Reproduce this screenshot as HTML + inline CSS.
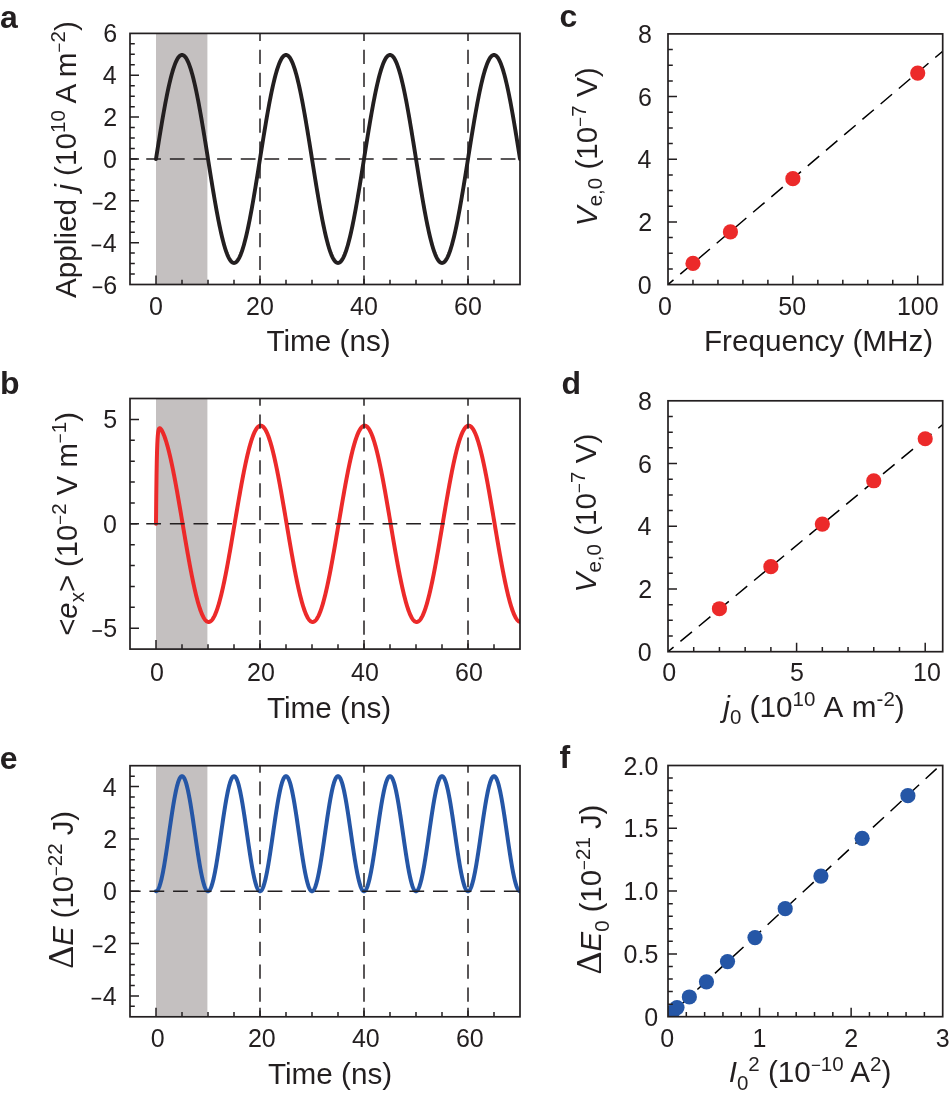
<!DOCTYPE html>
<html><head><meta charset="utf-8"><style>
html,body{margin:0;padding:0;background:#fff;width:950px;height:1100px;overflow:hidden}
svg{display:block;will-change:transform}
text{font-family:"Liberation Sans", sans-serif}
</style></head><body>
<svg width="950" height="1100" viewBox="0 0 950 1100" font-family='"Liberation Sans", sans-serif' fill="#231f20">
<rect width="950" height="1100" fill="#fff"/>
<rect x="156.00" y="33.40" width="51.40" height="251.10" fill="#c4c0c0"/>
<clipPath id="ca"><rect x="130.00" y="33.40" width="390.00" height="251.10"/></clipPath>
<polyline points="156.00,158.95 156.52,155.68 157.04,152.42 157.56,149.16 158.08,145.92 158.60,142.68 159.12,139.46 159.64,136.26 160.16,133.09 160.68,129.94 161.20,126.81 161.72,123.72 162.24,120.67 162.76,117.65 163.28,114.67 163.80,111.74 164.32,108.85 164.84,106.01 165.36,103.23 165.88,100.49 166.40,97.82 166.92,95.21 167.44,92.66 167.96,90.18 168.48,87.76 169.00,85.41 169.52,83.14 170.04,80.94 170.56,78.82 171.08,76.78 171.60,74.81 172.12,72.94 172.64,71.14 173.16,69.44 173.68,67.82 174.20,66.29 174.72,64.85 175.24,63.51 175.76,62.26 176.28,61.10 176.80,60.04 177.32,59.08 177.84,58.22 178.36,57.46 178.88,56.79 179.40,56.23 179.92,55.77 180.44,55.41 180.96,55.16 181.48,55.00 182.00,54.95 182.52,55.00 183.04,55.16 183.56,55.41 184.08,55.77 184.60,56.23 185.12,56.79 185.64,57.46 186.16,58.22 186.68,59.08 187.20,60.04 187.72,61.10 188.24,62.26 188.76,63.51 189.28,64.85 189.80,66.29 190.32,67.82 190.84,69.44 191.36,71.14 191.88,72.94 192.40,74.81 192.92,76.78 193.44,78.82 193.96,80.94 194.48,83.14 195.00,85.41 195.52,87.76 196.04,90.18 196.56,92.66 197.08,95.21 197.60,97.82 198.12,100.49 198.64,103.23 199.16,106.01 199.68,108.85 200.20,111.74 200.72,114.67 201.24,117.65 201.76,120.67 202.28,123.72 202.80,126.81 203.32,129.94 203.84,133.09 204.36,136.26 204.88,139.46 205.40,142.68 205.92,145.92 206.44,149.16 206.96,152.42 207.48,155.68 208.00,158.95 208.52,162.22 209.04,165.48 209.56,168.74 210.08,171.98 210.60,175.22 211.12,178.44 211.64,181.64 212.16,184.81 212.68,187.96 213.20,191.09 213.72,194.18 214.24,197.23 214.76,200.25 215.28,203.23 215.80,206.16 216.32,209.05 216.84,211.89 217.36,214.67 217.88,217.41 218.40,220.08 218.92,222.69 219.44,225.24 219.96,227.72 220.48,230.14 221.00,232.49 221.52,234.76 222.04,236.96 222.56,239.08 223.08,241.12 223.60,243.09 224.12,244.96 224.64,246.76 225.16,248.46 225.68,250.08 226.20,251.61 226.72,253.05 227.24,254.39 227.76,255.64 228.28,256.80 228.80,257.86 229.32,258.82 229.84,259.68 230.36,260.44 230.88,261.11 231.40,261.67 231.92,262.13 232.44,262.49 232.96,262.74 233.48,262.90 234.00,262.95 234.52,262.90 235.04,262.74 235.56,262.49 236.08,262.13 236.60,261.67 237.12,261.11 237.64,260.44 238.16,259.68 238.68,258.82 239.20,257.86 239.72,256.80 240.24,255.64 240.76,254.39 241.28,253.05 241.80,251.61 242.32,250.08 242.84,248.46 243.36,246.76 243.88,244.96 244.40,243.09 244.92,241.12 245.44,239.08 245.96,236.96 246.48,234.76 247.00,232.49 247.52,230.14 248.04,227.72 248.56,225.24 249.08,222.69 249.60,220.08 250.12,217.41 250.64,214.67 251.16,211.89 251.68,209.05 252.20,206.16 252.72,203.23 253.24,200.25 253.76,197.23 254.28,194.18 254.80,191.09 255.32,187.96 255.84,184.81 256.36,181.64 256.88,178.44 257.40,175.22 257.92,171.98 258.44,168.74 258.96,165.48 259.48,162.22 260.00,158.95 260.52,155.68 261.04,152.42 261.56,149.16 262.08,145.92 262.60,142.68 263.12,139.46 263.64,136.26 264.16,133.09 264.68,129.94 265.20,126.81 265.72,123.72 266.24,120.67 266.76,117.65 267.28,114.67 267.80,111.74 268.32,108.85 268.84,106.01 269.36,103.23 269.88,100.49 270.40,97.82 270.92,95.21 271.44,92.66 271.96,90.18 272.48,87.76 273.00,85.41 273.52,83.14 274.04,80.94 274.56,78.82 275.08,76.78 275.60,74.81 276.12,72.94 276.64,71.14 277.16,69.44 277.68,67.82 278.20,66.29 278.72,64.85 279.24,63.51 279.76,62.26 280.28,61.10 280.80,60.04 281.32,59.08 281.84,58.22 282.36,57.46 282.88,56.79 283.40,56.23 283.92,55.77 284.44,55.41 284.96,55.16 285.48,55.00 286.00,54.95 286.52,55.00 287.04,55.16 287.56,55.41 288.08,55.77 288.60,56.23 289.12,56.79 289.64,57.46 290.16,58.22 290.68,59.08 291.20,60.04 291.72,61.10 292.24,62.26 292.76,63.51 293.28,64.85 293.80,66.29 294.32,67.82 294.84,69.44 295.36,71.14 295.88,72.94 296.40,74.81 296.92,76.78 297.44,78.82 297.96,80.94 298.48,83.14 299.00,85.41 299.52,87.76 300.04,90.18 300.56,92.66 301.08,95.21 301.60,97.82 302.12,100.49 302.64,103.23 303.16,106.01 303.68,108.85 304.20,111.74 304.72,114.67 305.24,117.65 305.76,120.67 306.28,123.72 306.80,126.81 307.32,129.94 307.84,133.09 308.36,136.26 308.88,139.46 309.40,142.68 309.92,145.92 310.44,149.16 310.96,152.42 311.48,155.68 312.00,158.95 312.52,162.22 313.04,165.48 313.56,168.74 314.08,171.98 314.60,175.22 315.12,178.44 315.64,181.64 316.16,184.81 316.68,187.96 317.20,191.09 317.72,194.18 318.24,197.23 318.76,200.25 319.28,203.23 319.80,206.16 320.32,209.05 320.84,211.89 321.36,214.67 321.88,217.41 322.40,220.08 322.92,222.69 323.44,225.24 323.96,227.72 324.48,230.14 325.00,232.49 325.52,234.76 326.04,236.96 326.56,239.08 327.08,241.12 327.60,243.09 328.12,244.96 328.64,246.76 329.16,248.46 329.68,250.08 330.20,251.61 330.72,253.05 331.24,254.39 331.76,255.64 332.28,256.80 332.80,257.86 333.32,258.82 333.84,259.68 334.36,260.44 334.88,261.11 335.40,261.67 335.92,262.13 336.44,262.49 336.96,262.74 337.48,262.90 338.00,262.95 338.52,262.90 339.04,262.74 339.56,262.49 340.08,262.13 340.60,261.67 341.12,261.11 341.64,260.44 342.16,259.68 342.68,258.82 343.20,257.86 343.72,256.80 344.24,255.64 344.76,254.39 345.28,253.05 345.80,251.61 346.32,250.08 346.84,248.46 347.36,246.76 347.88,244.96 348.40,243.09 348.92,241.12 349.44,239.08 349.96,236.96 350.48,234.76 351.00,232.49 351.52,230.14 352.04,227.72 352.56,225.24 353.08,222.69 353.60,220.08 354.12,217.41 354.64,214.67 355.16,211.89 355.68,209.05 356.20,206.16 356.72,203.23 357.24,200.25 357.76,197.23 358.28,194.18 358.80,191.09 359.32,187.96 359.84,184.81 360.36,181.64 360.88,178.44 361.40,175.22 361.92,171.98 362.44,168.74 362.96,165.48 363.48,162.22 364.00,158.95 364.52,155.68 365.04,152.42 365.56,149.16 366.08,145.92 366.60,142.68 367.12,139.46 367.64,136.26 368.16,133.09 368.68,129.94 369.20,126.81 369.72,123.72 370.24,120.67 370.76,117.65 371.28,114.67 371.80,111.74 372.32,108.85 372.84,106.01 373.36,103.23 373.88,100.49 374.40,97.82 374.92,95.21 375.44,92.66 375.96,90.18 376.48,87.76 377.00,85.41 377.52,83.14 378.04,80.94 378.56,78.82 379.08,76.78 379.60,74.81 380.12,72.94 380.64,71.14 381.16,69.44 381.68,67.82 382.20,66.29 382.72,64.85 383.24,63.51 383.76,62.26 384.28,61.10 384.80,60.04 385.32,59.08 385.84,58.22 386.36,57.46 386.88,56.79 387.40,56.23 387.92,55.77 388.44,55.41 388.96,55.16 389.48,55.00 390.00,54.95 390.52,55.00 391.04,55.16 391.56,55.41 392.08,55.77 392.60,56.23 393.12,56.79 393.64,57.46 394.16,58.22 394.68,59.08 395.20,60.04 395.72,61.10 396.24,62.26 396.76,63.51 397.28,64.85 397.80,66.29 398.32,67.82 398.84,69.44 399.36,71.14 399.88,72.94 400.40,74.81 400.92,76.78 401.44,78.82 401.96,80.94 402.48,83.14 403.00,85.41 403.52,87.76 404.04,90.18 404.56,92.66 405.08,95.21 405.60,97.82 406.12,100.49 406.64,103.23 407.16,106.01 407.68,108.85 408.20,111.74 408.72,114.67 409.24,117.65 409.76,120.67 410.28,123.72 410.80,126.81 411.32,129.94 411.84,133.09 412.36,136.26 412.88,139.46 413.40,142.68 413.92,145.92 414.44,149.16 414.96,152.42 415.48,155.68 416.00,158.95 416.52,162.22 417.04,165.48 417.56,168.74 418.08,171.98 418.60,175.22 419.12,178.44 419.64,181.64 420.16,184.81 420.68,187.96 421.20,191.09 421.72,194.18 422.24,197.23 422.76,200.25 423.28,203.23 423.80,206.16 424.32,209.05 424.84,211.89 425.36,214.67 425.88,217.41 426.40,220.08 426.92,222.69 427.44,225.24 427.96,227.72 428.48,230.14 429.00,232.49 429.52,234.76 430.04,236.96 430.56,239.08 431.08,241.12 431.60,243.09 432.12,244.96 432.64,246.76 433.16,248.46 433.68,250.08 434.20,251.61 434.72,253.05 435.24,254.39 435.76,255.64 436.28,256.80 436.80,257.86 437.32,258.82 437.84,259.68 438.36,260.44 438.88,261.11 439.40,261.67 439.92,262.13 440.44,262.49 440.96,262.74 441.48,262.90 442.00,262.95 442.52,262.90 443.04,262.74 443.56,262.49 444.08,262.13 444.60,261.67 445.12,261.11 445.64,260.44 446.16,259.68 446.68,258.82 447.20,257.86 447.72,256.80 448.24,255.64 448.76,254.39 449.28,253.05 449.80,251.61 450.32,250.08 450.84,248.46 451.36,246.76 451.88,244.96 452.40,243.09 452.92,241.12 453.44,239.08 453.96,236.96 454.48,234.76 455.00,232.49 455.52,230.14 456.04,227.72 456.56,225.24 457.08,222.69 457.60,220.08 458.12,217.41 458.64,214.67 459.16,211.89 459.68,209.05 460.20,206.16 460.72,203.23 461.24,200.25 461.76,197.23 462.28,194.18 462.80,191.09 463.32,187.96 463.84,184.81 464.36,181.64 464.88,178.44 465.40,175.22 465.92,171.98 466.44,168.74 466.96,165.48 467.48,162.22 468.00,158.95 468.52,155.68 469.04,152.42 469.56,149.16 470.08,145.92 470.60,142.68 471.12,139.46 471.64,136.26 472.16,133.09 472.68,129.94 473.20,126.81 473.72,123.72 474.24,120.67 474.76,117.65 475.28,114.67 475.80,111.74 476.32,108.85 476.84,106.01 477.36,103.23 477.88,100.49 478.40,97.82 478.92,95.21 479.44,92.66 479.96,90.18 480.48,87.76 481.00,85.41 481.52,83.14 482.04,80.94 482.56,78.82 483.08,76.78 483.60,74.81 484.12,72.94 484.64,71.14 485.16,69.44 485.68,67.82 486.20,66.29 486.72,64.85 487.24,63.51 487.76,62.26 488.28,61.10 488.80,60.04 489.32,59.08 489.84,58.22 490.36,57.46 490.88,56.79 491.40,56.23 491.92,55.77 492.44,55.41 492.96,55.16 493.48,55.00 494.00,54.95 494.52,55.00 495.04,55.16 495.56,55.41 496.08,55.77 496.60,56.23 497.12,56.79 497.64,57.46 498.16,58.22 498.68,59.08 499.20,60.04 499.72,61.10 500.24,62.26 500.76,63.51 501.28,64.85 501.80,66.29 502.32,67.82 502.84,69.44 503.36,71.14 503.88,72.94 504.40,74.81 504.92,76.78 505.44,78.82 505.96,80.94 506.48,83.14 507.00,85.41 507.52,87.76 508.04,90.18 508.56,92.66 509.08,95.21 509.60,97.82 510.12,100.49 510.64,103.23 511.16,106.01 511.68,108.85 512.20,111.74 512.72,114.67 513.24,117.65 513.76,120.67 514.28,123.72 514.80,126.81 515.32,129.94 515.84,133.09 516.36,136.26 516.88,139.46 517.40,142.68 517.92,145.92 518.44,149.16 518.96,152.42 519.48,155.68 520.00,158.95" fill="none" stroke="#231f20" stroke-width="3.9" stroke-linejoin="round" stroke-linecap="round" clip-path="url(#ca)"/>
<path d="M130.00 158.95H520.00" stroke="#231f20" stroke-width="1.5" stroke-dasharray="14.8 8.83" stroke-dashoffset="7.4" fill="none"/>
<path d="M260.00 33.40V284.50" stroke="#231f20" stroke-width="1.5" stroke-dasharray="14.2 8.7" stroke-dashoffset="6.5" fill="none"/>
<path d="M364.00 33.40V284.50" stroke="#231f20" stroke-width="1.5" stroke-dasharray="14.2 8.7" stroke-dashoffset="6.5" fill="none"/>
<path d="M468.00 33.40V284.50" stroke="#231f20" stroke-width="1.5" stroke-dasharray="14.2 8.7" stroke-dashoffset="6.5" fill="none"/>
<path d="M156.00 284.50V279.70M182.00 284.50V279.70M208.00 284.50V279.70M234.00 284.50V279.70M260.00 284.50V279.70M286.00 284.50V279.70M312.00 284.50V279.70M338.00 284.50V279.70M364.00 284.50V279.70M390.00 284.50V279.70M416.00 284.50V279.70M442.00 284.50V279.70M468.00 284.50V279.70M494.00 284.50V279.70M156.00 284.50V275.50M260.00 284.50V275.50M364.00 284.50V275.50M468.00 284.50V275.50M130.00 274.04H134.80M130.00 263.57H134.80M130.00 253.11H134.80M130.00 242.65H134.80M130.00 232.19H134.80M130.00 221.72H134.80M130.00 211.26H134.80M130.00 200.80H134.80M130.00 190.34H134.80M130.00 179.88H134.80M130.00 169.41H134.80M130.00 158.95H134.80M130.00 148.49H134.80M130.00 138.03H134.80M130.00 127.56H134.80M130.00 117.10H134.80M130.00 106.64H134.80M130.00 96.17H134.80M130.00 85.71H134.80M130.00 75.25H134.80M130.00 64.79H134.80M130.00 54.33H134.80M130.00 43.86H134.80M130.00 242.65H139.00M130.00 200.80H139.00M130.00 158.95H139.00M130.00 117.10H139.00M130.00 75.25H139.00" stroke="#231f20" stroke-width="1.5" fill="none"/>
<rect x="130.00" y="33.40" width="390.00" height="251.10" fill="none" stroke="#231f20" stroke-width="1.7"/>
<text transform="translate(156.00,314.70) scale(1,1.05)" text-anchor="middle" font-size="25">0</text>
<text transform="translate(260.00,314.70) scale(1,1.05)" text-anchor="middle" font-size="25">20</text>
<text transform="translate(364.00,314.70) scale(1,1.05)" text-anchor="middle" font-size="25">40</text>
<text transform="translate(468.00,314.70) scale(1,1.05)" text-anchor="middle" font-size="25">60</text>
<text transform="translate(117.10,293.50) scale(1,1.05)" text-anchor="end" font-size="25">6</text>
<rect x="92.66" y="286.45" width="9.6" height="1.7" fill="#231f20"/>
<text transform="translate(116.73,251.65) scale(1,1.05)" text-anchor="end" font-size="25">4</text>
<rect x="91.60" y="244.60" width="9.6" height="1.7" fill="#231f20"/>
<text transform="translate(117.26,209.80) scale(1,1.05)" text-anchor="end" font-size="25">2</text>
<rect x="92.81" y="202.75" width="9.6" height="1.7" fill="#231f20"/>
<text transform="translate(116.98,167.95) scale(1,1.05)" text-anchor="end" font-size="25">0</text>
<text transform="translate(117.26,126.10) scale(1,1.05)" text-anchor="end" font-size="25">2</text>
<text transform="translate(116.73,84.25) scale(1,1.05)" text-anchor="end" font-size="25">4</text>
<text transform="translate(117.10,42.40) scale(1,1.05)" text-anchor="end" font-size="25">6</text>
<rect x="156.00" y="398.50" width="51.40" height="250.60" fill="#c4c0c0"/>
<clipPath id="cb"><rect x="130.00" y="398.50" width="390.00" height="250.60"/></clipPath>
<polyline points="156.00,523.80 156.26,495.95 156.52,476.01 156.78,461.74 157.04,451.53 157.30,444.26 157.56,439.08 157.82,435.42 158.08,432.84 158.34,431.06 158.60,429.85 158.86,429.05 159.12,428.56 159.38,428.29 159.64,428.20 159.90,428.23 160.16,428.35 160.42,428.56 160.68,428.82 160.94,429.14 161.20,429.50 161.46,429.90 161.72,430.33 161.98,430.79 162.24,431.28 162.50,431.79 162.76,432.33 163.02,432.90 163.28,433.49 163.54,434.10 163.80,434.73 164.06,435.39 164.32,436.07 164.58,436.77 164.84,437.49 165.10,438.24 165.36,439.01 165.62,439.79 165.88,440.60 166.14,441.43 166.40,442.28 166.66,443.14 166.92,444.03 167.18,444.94 167.44,445.87 167.70,446.82 167.96,447.78 168.22,448.77 168.48,449.77 168.74,450.79 169.00,451.83 169.26,452.89 169.52,453.96 169.78,455.05 170.04,456.16 170.30,457.29 170.56,458.43 170.82,459.59 171.08,460.76 171.34,461.95 171.60,463.16 171.86,464.38 172.12,465.61 172.38,466.86 172.64,468.12 172.90,469.40 173.16,470.69 173.42,471.99 173.68,473.31 173.94,474.64 174.20,475.98 174.46,477.33 174.72,478.69 174.98,480.07 175.24,481.45 175.50,482.85 175.76,484.25 176.02,485.67 176.28,487.10 176.54,488.53 176.80,489.97 177.06,491.42 177.32,492.88 177.58,494.35 177.84,495.82 178.10,497.31 178.36,498.79 178.62,500.29 178.88,501.79 179.14,503.29 179.40,504.80 179.66,506.32 179.92,507.84 180.18,509.36 180.44,510.89 180.70,512.42 180.96,513.95 181.22,515.48 181.48,517.02 181.74,518.56 182.00,520.10 182.26,521.64 182.52,523.18 182.78,524.73 183.04,526.27 183.30,527.81 183.56,529.35 183.82,530.89 184.08,532.42 184.34,533.96 184.60,535.49 184.86,537.02 185.12,538.54 185.38,540.07 185.64,541.59 185.90,543.10 186.16,544.61 186.42,546.11 186.68,547.61 186.94,549.10 187.20,550.59 187.46,552.07 187.72,553.54 187.98,555.01 188.24,556.47 188.50,557.92 188.76,559.36 189.02,560.79 189.28,562.21 189.54,563.63 189.80,565.03 190.06,566.43 190.32,567.81 190.58,569.18 190.84,570.54 191.10,571.89 191.36,573.23 191.62,574.56 191.88,575.87 192.14,577.17 192.40,578.46 192.66,579.73 192.92,580.99 193.18,582.24 193.44,583.47 193.70,584.69 193.96,585.89 194.22,587.07 194.48,588.24 194.74,589.40 195.00,590.54 195.26,591.66 195.52,592.77 195.78,593.85 196.04,594.93 196.30,595.98 196.56,597.02 196.82,598.03 197.08,599.03 197.34,600.01 197.60,600.98 197.86,601.92 198.12,602.84 198.38,603.75 198.64,604.63 198.90,605.50 199.16,606.34 199.42,607.16 199.68,607.97 199.94,608.75 200.20,609.51 200.46,610.25 200.72,610.97 200.98,611.67 201.24,612.35 201.50,613.00 201.76,613.63 202.02,614.24 202.28,614.83 202.54,615.40 202.80,615.94 203.06,616.46 203.32,616.96 203.58,617.43 203.84,617.88 204.10,618.31 204.36,618.71 204.62,619.09 204.88,619.45 205.14,619.79 205.40,620.10 205.66,620.38 205.92,620.64 206.18,620.88 206.44,621.10 206.70,621.29 206.96,621.46 207.22,621.60 207.48,621.72 207.74,621.81 208.00,621.88 208.26,621.93 208.52,621.95 208.78,621.95 209.04,621.92 209.30,621.87 209.56,621.79 209.82,621.70 210.08,621.57 210.34,621.42 210.60,621.25 210.86,621.06 211.12,620.84 211.38,620.59 211.64,620.33 211.90,620.04 212.16,619.72 212.42,619.38 212.68,619.02 212.94,618.63 213.20,618.22 213.46,617.79 213.72,617.34 213.98,616.86 214.24,616.36 214.50,615.83 214.76,615.28 215.02,614.71 215.28,614.12 215.54,613.51 215.80,612.87 216.06,612.21 216.32,611.53 216.58,610.83 216.84,610.11 217.10,609.36 217.36,608.60 217.62,607.81 217.88,607.00 218.14,606.17 218.40,605.32 218.66,604.46 218.92,603.57 219.18,602.66 219.44,601.73 219.70,600.78 219.96,599.82 220.22,598.83 220.48,597.83 220.74,596.81 221.00,595.77 221.26,594.71 221.52,593.64 221.78,592.55 222.04,591.44 222.30,590.31 222.56,589.17 222.82,588.01 223.08,586.84 223.34,585.65 223.60,584.44 223.86,583.22 224.12,581.99 224.38,580.74 224.64,579.48 224.90,578.20 225.16,576.91 225.42,575.61 225.68,574.29 225.94,572.96 226.20,571.62 226.46,570.27 226.72,568.91 226.98,567.53 227.24,566.15 227.50,564.75 227.76,563.35 228.02,561.93 228.28,560.50 228.54,559.07 228.80,557.63 229.06,556.18 229.32,554.72 229.58,553.25 229.84,551.78 230.10,550.29 230.36,548.81 230.62,547.31 230.88,545.81 231.14,544.31 231.40,542.80 231.66,541.28 231.92,539.76 232.18,538.24 232.44,536.71 232.70,535.18 232.96,533.65 233.22,532.12 233.48,530.58 233.74,529.04 234.00,527.50 234.26,525.96 234.52,524.42 234.78,522.87 235.04,521.33 235.30,519.79 235.56,518.25 235.82,516.71 236.08,515.18 236.34,513.64 236.60,512.11 236.86,510.58 237.12,509.06 237.38,507.53 237.64,506.01 237.90,504.50 238.16,502.99 238.42,501.49 238.68,499.99 238.94,498.50 239.20,497.01 239.46,495.53 239.72,494.06 239.98,492.59 240.24,491.13 240.50,489.68 240.76,488.24 241.02,486.81 241.28,485.39 241.54,483.97 241.80,482.57 242.06,481.17 242.32,479.79 242.58,478.42 242.84,477.06 243.10,475.71 243.36,474.37 243.62,473.04 243.88,471.73 244.14,470.43 244.40,469.14 244.66,467.87 244.92,466.61 245.18,465.36 245.44,464.13 245.70,462.91 245.96,461.71 246.22,460.53 246.48,459.36 246.74,458.20 247.00,457.06 247.26,455.94 247.52,454.83 247.78,453.75 248.04,452.67 248.30,451.62 248.56,450.58 248.82,449.57 249.08,448.57 249.34,447.59 249.60,446.62 249.86,445.68 250.12,444.76 250.38,443.85 250.64,442.97 250.90,442.10 251.16,441.26 251.42,440.44 251.68,439.63 251.94,438.85 252.20,438.09 252.46,437.35 252.72,436.63 252.98,435.93 253.24,435.25 253.50,434.60 253.76,433.97 254.02,433.36 254.28,432.77 254.54,432.20 254.80,431.66 255.06,431.14 255.32,430.64 255.58,430.17 255.84,429.72 256.10,429.29 256.36,428.89 256.62,428.51 256.88,428.15 257.14,427.81 257.40,427.50 257.66,427.22 257.92,426.96 258.18,426.72 258.44,426.50 258.70,426.31 258.96,426.14 259.22,426.00 259.48,425.88 259.74,425.79 260.00,425.72 260.26,425.67 260.52,425.65 260.78,425.65 261.04,425.68 261.30,425.73 261.56,425.81 261.82,425.90 262.08,426.03 262.34,426.18 262.60,426.35 262.86,426.54 263.12,426.76 263.38,427.01 263.64,427.27 263.90,427.56 264.16,427.88 264.42,428.22 264.68,428.58 264.94,428.97 265.20,429.38 265.46,429.81 265.72,430.26 265.98,430.74 266.24,431.24 266.50,431.77 266.76,432.32 267.02,432.89 267.28,433.48 267.54,434.09 267.80,434.73 268.06,435.39 268.32,436.07 268.58,436.77 268.84,437.49 269.10,438.24 269.36,439.00 269.62,439.79 269.88,440.60 270.14,441.43 270.40,442.28 270.66,443.14 270.92,444.03 271.18,444.94 271.44,445.87 271.70,446.82 271.96,447.78 272.22,448.77 272.48,449.77 272.74,450.79 273.00,451.83 273.26,452.89 273.52,453.96 273.78,455.05 274.04,456.16 274.30,457.29 274.56,458.43 274.82,459.59 275.08,460.76 275.34,461.95 275.60,463.16 275.86,464.38 276.12,465.61 276.38,466.86 276.64,468.12 276.90,469.40 277.16,470.69 277.42,471.99 277.68,473.31 277.94,474.64 278.20,475.98 278.46,477.33 278.72,478.69 278.98,480.07 279.24,481.45 279.50,482.85 279.76,484.25 280.02,485.67 280.28,487.10 280.54,488.53 280.80,489.97 281.06,491.42 281.32,492.88 281.58,494.35 281.84,495.82 282.10,497.31 282.36,498.79 282.62,500.29 282.88,501.79 283.14,503.29 283.40,504.80 283.66,506.32 283.92,507.84 284.18,509.36 284.44,510.89 284.70,512.42 284.96,513.95 285.22,515.48 285.48,517.02 285.74,518.56 286.00,520.10 286.26,521.64 286.52,523.18 286.78,524.73 287.04,526.27 287.30,527.81 287.56,529.35 287.82,530.89 288.08,532.42 288.34,533.96 288.60,535.49 288.86,537.02 289.12,538.54 289.38,540.07 289.64,541.59 289.90,543.10 290.16,544.61 290.42,546.11 290.68,547.61 290.94,549.10 291.20,550.59 291.46,552.07 291.72,553.54 291.98,555.01 292.24,556.47 292.50,557.92 292.76,559.36 293.02,560.79 293.28,562.21 293.54,563.63 293.80,565.03 294.06,566.43 294.32,567.81 294.58,569.18 294.84,570.54 295.10,571.89 295.36,573.23 295.62,574.56 295.88,575.87 296.14,577.17 296.40,578.46 296.66,579.73 296.92,580.99 297.18,582.24 297.44,583.47 297.70,584.69 297.96,585.89 298.22,587.07 298.48,588.24 298.74,589.40 299.00,590.54 299.26,591.66 299.52,592.77 299.78,593.85 300.04,594.93 300.30,595.98 300.56,597.02 300.82,598.03 301.08,599.03 301.34,600.01 301.60,600.98 301.86,601.92 302.12,602.84 302.38,603.75 302.64,604.63 302.90,605.50 303.16,606.34 303.42,607.16 303.68,607.97 303.94,608.75 304.20,609.51 304.46,610.25 304.72,610.97 304.98,611.67 305.24,612.35 305.50,613.00 305.76,613.63 306.02,614.24 306.28,614.83 306.54,615.40 306.80,615.94 307.06,616.46 307.32,616.96 307.58,617.43 307.84,617.88 308.10,618.31 308.36,618.71 308.62,619.09 308.88,619.45 309.14,619.79 309.40,620.10 309.66,620.38 309.92,620.64 310.18,620.88 310.44,621.10 310.70,621.29 310.96,621.46 311.22,621.60 311.48,621.72 311.74,621.81 312.00,621.88 312.26,621.93 312.52,621.95 312.78,621.95 313.04,621.92 313.30,621.87 313.56,621.79 313.82,621.70 314.08,621.57 314.34,621.42 314.60,621.25 314.86,621.06 315.12,620.84 315.38,620.59 315.64,620.33 315.90,620.04 316.16,619.72 316.42,619.38 316.68,619.02 316.94,618.63 317.20,618.22 317.46,617.79 317.72,617.34 317.98,616.86 318.24,616.36 318.50,615.83 318.76,615.28 319.02,614.71 319.28,614.12 319.54,613.51 319.80,612.87 320.06,612.21 320.32,611.53 320.58,610.83 320.84,610.11 321.10,609.36 321.36,608.60 321.62,607.81 321.88,607.00 322.14,606.17 322.40,605.32 322.66,604.46 322.92,603.57 323.18,602.66 323.44,601.73 323.70,600.78 323.96,599.82 324.22,598.83 324.48,597.83 324.74,596.81 325.00,595.77 325.26,594.71 325.52,593.64 325.78,592.55 326.04,591.44 326.30,590.31 326.56,589.17 326.82,588.01 327.08,586.84 327.34,585.65 327.60,584.44 327.86,583.22 328.12,581.99 328.38,580.74 328.64,579.48 328.90,578.20 329.16,576.91 329.42,575.61 329.68,574.29 329.94,572.96 330.20,571.62 330.46,570.27 330.72,568.91 330.98,567.53 331.24,566.15 331.50,564.75 331.76,563.35 332.02,561.93 332.28,560.50 332.54,559.07 332.80,557.63 333.06,556.18 333.32,554.72 333.58,553.25 333.84,551.78 334.10,550.29 334.36,548.81 334.62,547.31 334.88,545.81 335.14,544.31 335.40,542.80 335.66,541.28 335.92,539.76 336.18,538.24 336.44,536.71 336.70,535.18 336.96,533.65 337.22,532.12 337.48,530.58 337.74,529.04 338.00,527.50 338.26,525.96 338.52,524.42 338.78,522.87 339.04,521.33 339.30,519.79 339.56,518.25 339.82,516.71 340.08,515.18 340.34,513.64 340.60,512.11 340.86,510.58 341.12,509.06 341.38,507.53 341.64,506.01 341.90,504.50 342.16,502.99 342.42,501.49 342.68,499.99 342.94,498.50 343.20,497.01 343.46,495.53 343.72,494.06 343.98,492.59 344.24,491.13 344.50,489.68 344.76,488.24 345.02,486.81 345.28,485.39 345.54,483.97 345.80,482.57 346.06,481.17 346.32,479.79 346.58,478.42 346.84,477.06 347.10,475.71 347.36,474.37 347.62,473.04 347.88,471.73 348.14,470.43 348.40,469.14 348.66,467.87 348.92,466.61 349.18,465.36 349.44,464.13 349.70,462.91 349.96,461.71 350.22,460.53 350.48,459.36 350.74,458.20 351.00,457.06 351.26,455.94 351.52,454.83 351.78,453.75 352.04,452.67 352.30,451.62 352.56,450.58 352.82,449.57 353.08,448.57 353.34,447.59 353.60,446.62 353.86,445.68 354.12,444.76 354.38,443.85 354.64,442.97 354.90,442.10 355.16,441.26 355.42,440.44 355.68,439.63 355.94,438.85 356.20,438.09 356.46,437.35 356.72,436.63 356.98,435.93 357.24,435.25 357.50,434.60 357.76,433.97 358.02,433.36 358.28,432.77 358.54,432.20 358.80,431.66 359.06,431.14 359.32,430.64 359.58,430.17 359.84,429.72 360.10,429.29 360.36,428.89 360.62,428.51 360.88,428.15 361.14,427.81 361.40,427.50 361.66,427.22 361.92,426.96 362.18,426.72 362.44,426.50 362.70,426.31 362.96,426.14 363.22,426.00 363.48,425.88 363.74,425.79 364.00,425.72 364.26,425.67 364.52,425.65 364.78,425.65 365.04,425.68 365.30,425.73 365.56,425.81 365.82,425.90 366.08,426.03 366.34,426.18 366.60,426.35 366.86,426.54 367.12,426.76 367.38,427.01 367.64,427.27 367.90,427.56 368.16,427.88 368.42,428.22 368.68,428.58 368.94,428.97 369.20,429.38 369.46,429.81 369.72,430.26 369.98,430.74 370.24,431.24 370.50,431.77 370.76,432.32 371.02,432.89 371.28,433.48 371.54,434.09 371.80,434.73 372.06,435.39 372.32,436.07 372.58,436.77 372.84,437.49 373.10,438.24 373.36,439.00 373.62,439.79 373.88,440.60 374.14,441.43 374.40,442.28 374.66,443.14 374.92,444.03 375.18,444.94 375.44,445.87 375.70,446.82 375.96,447.78 376.22,448.77 376.48,449.77 376.74,450.79 377.00,451.83 377.26,452.89 377.52,453.96 377.78,455.05 378.04,456.16 378.30,457.29 378.56,458.43 378.82,459.59 379.08,460.76 379.34,461.95 379.60,463.16 379.86,464.38 380.12,465.61 380.38,466.86 380.64,468.12 380.90,469.40 381.16,470.69 381.42,471.99 381.68,473.31 381.94,474.64 382.20,475.98 382.46,477.33 382.72,478.69 382.98,480.07 383.24,481.45 383.50,482.85 383.76,484.25 384.02,485.67 384.28,487.10 384.54,488.53 384.80,489.97 385.06,491.42 385.32,492.88 385.58,494.35 385.84,495.82 386.10,497.31 386.36,498.79 386.62,500.29 386.88,501.79 387.14,503.29 387.40,504.80 387.66,506.32 387.92,507.84 388.18,509.36 388.44,510.89 388.70,512.42 388.96,513.95 389.22,515.48 389.48,517.02 389.74,518.56 390.00,520.10 390.26,521.64 390.52,523.18 390.78,524.73 391.04,526.27 391.30,527.81 391.56,529.35 391.82,530.89 392.08,532.42 392.34,533.96 392.60,535.49 392.86,537.02 393.12,538.54 393.38,540.07 393.64,541.59 393.90,543.10 394.16,544.61 394.42,546.11 394.68,547.61 394.94,549.10 395.20,550.59 395.46,552.07 395.72,553.54 395.98,555.01 396.24,556.47 396.50,557.92 396.76,559.36 397.02,560.79 397.28,562.21 397.54,563.63 397.80,565.03 398.06,566.43 398.32,567.81 398.58,569.18 398.84,570.54 399.10,571.89 399.36,573.23 399.62,574.56 399.88,575.87 400.14,577.17 400.40,578.46 400.66,579.73 400.92,580.99 401.18,582.24 401.44,583.47 401.70,584.69 401.96,585.89 402.22,587.07 402.48,588.24 402.74,589.40 403.00,590.54 403.26,591.66 403.52,592.77 403.78,593.85 404.04,594.93 404.30,595.98 404.56,597.02 404.82,598.03 405.08,599.03 405.34,600.01 405.60,600.98 405.86,601.92 406.12,602.84 406.38,603.75 406.64,604.63 406.90,605.50 407.16,606.34 407.42,607.16 407.68,607.97 407.94,608.75 408.20,609.51 408.46,610.25 408.72,610.97 408.98,611.67 409.24,612.35 409.50,613.00 409.76,613.63 410.02,614.24 410.28,614.83 410.54,615.40 410.80,615.94 411.06,616.46 411.32,616.96 411.58,617.43 411.84,617.88 412.10,618.31 412.36,618.71 412.62,619.09 412.88,619.45 413.14,619.79 413.40,620.10 413.66,620.38 413.92,620.64 414.18,620.88 414.44,621.10 414.70,621.29 414.96,621.46 415.22,621.60 415.48,621.72 415.74,621.81 416.00,621.88 416.26,621.93 416.52,621.95 416.78,621.95 417.04,621.92 417.30,621.87 417.56,621.79 417.82,621.70 418.08,621.57 418.34,621.42 418.60,621.25 418.86,621.06 419.12,620.84 419.38,620.59 419.64,620.33 419.90,620.04 420.16,619.72 420.42,619.38 420.68,619.02 420.94,618.63 421.20,618.22 421.46,617.79 421.72,617.34 421.98,616.86 422.24,616.36 422.50,615.83 422.76,615.28 423.02,614.71 423.28,614.12 423.54,613.51 423.80,612.87 424.06,612.21 424.32,611.53 424.58,610.83 424.84,610.11 425.10,609.36 425.36,608.60 425.62,607.81 425.88,607.00 426.14,606.17 426.40,605.32 426.66,604.46 426.92,603.57 427.18,602.66 427.44,601.73 427.70,600.78 427.96,599.82 428.22,598.83 428.48,597.83 428.74,596.81 429.00,595.77 429.26,594.71 429.52,593.64 429.78,592.55 430.04,591.44 430.30,590.31 430.56,589.17 430.82,588.01 431.08,586.84 431.34,585.65 431.60,584.44 431.86,583.22 432.12,581.99 432.38,580.74 432.64,579.48 432.90,578.20 433.16,576.91 433.42,575.61 433.68,574.29 433.94,572.96 434.20,571.62 434.46,570.27 434.72,568.91 434.98,567.53 435.24,566.15 435.50,564.75 435.76,563.35 436.02,561.93 436.28,560.50 436.54,559.07 436.80,557.63 437.06,556.18 437.32,554.72 437.58,553.25 437.84,551.78 438.10,550.29 438.36,548.81 438.62,547.31 438.88,545.81 439.14,544.31 439.40,542.80 439.66,541.28 439.92,539.76 440.18,538.24 440.44,536.71 440.70,535.18 440.96,533.65 441.22,532.12 441.48,530.58 441.74,529.04 442.00,527.50 442.26,525.96 442.52,524.42 442.78,522.87 443.04,521.33 443.30,519.79 443.56,518.25 443.82,516.71 444.08,515.18 444.34,513.64 444.60,512.11 444.86,510.58 445.12,509.06 445.38,507.53 445.64,506.01 445.90,504.50 446.16,502.99 446.42,501.49 446.68,499.99 446.94,498.50 447.20,497.01 447.46,495.53 447.72,494.06 447.98,492.59 448.24,491.13 448.50,489.68 448.76,488.24 449.02,486.81 449.28,485.39 449.54,483.97 449.80,482.57 450.06,481.17 450.32,479.79 450.58,478.42 450.84,477.06 451.10,475.71 451.36,474.37 451.62,473.04 451.88,471.73 452.14,470.43 452.40,469.14 452.66,467.87 452.92,466.61 453.18,465.36 453.44,464.13 453.70,462.91 453.96,461.71 454.22,460.53 454.48,459.36 454.74,458.20 455.00,457.06 455.26,455.94 455.52,454.83 455.78,453.75 456.04,452.67 456.30,451.62 456.56,450.58 456.82,449.57 457.08,448.57 457.34,447.59 457.60,446.62 457.86,445.68 458.12,444.76 458.38,443.85 458.64,442.97 458.90,442.10 459.16,441.26 459.42,440.44 459.68,439.63 459.94,438.85 460.20,438.09 460.46,437.35 460.72,436.63 460.98,435.93 461.24,435.25 461.50,434.60 461.76,433.97 462.02,433.36 462.28,432.77 462.54,432.20 462.80,431.66 463.06,431.14 463.32,430.64 463.58,430.17 463.84,429.72 464.10,429.29 464.36,428.89 464.62,428.51 464.88,428.15 465.14,427.81 465.40,427.50 465.66,427.22 465.92,426.96 466.18,426.72 466.44,426.50 466.70,426.31 466.96,426.14 467.22,426.00 467.48,425.88 467.74,425.79 468.00,425.72 468.26,425.67 468.52,425.65 468.78,425.65 469.04,425.68 469.30,425.73 469.56,425.81 469.82,425.90 470.08,426.03 470.34,426.18 470.60,426.35 470.86,426.54 471.12,426.76 471.38,427.01 471.64,427.27 471.90,427.56 472.16,427.88 472.42,428.22 472.68,428.58 472.94,428.97 473.20,429.38 473.46,429.81 473.72,430.26 473.98,430.74 474.24,431.24 474.50,431.77 474.76,432.32 475.02,432.89 475.28,433.48 475.54,434.09 475.80,434.73 476.06,435.39 476.32,436.07 476.58,436.77 476.84,437.49 477.10,438.24 477.36,439.00 477.62,439.79 477.88,440.60 478.14,441.43 478.40,442.28 478.66,443.14 478.92,444.03 479.18,444.94 479.44,445.87 479.70,446.82 479.96,447.78 480.22,448.77 480.48,449.77 480.74,450.79 481.00,451.83 481.26,452.89 481.52,453.96 481.78,455.05 482.04,456.16 482.30,457.29 482.56,458.43 482.82,459.59 483.08,460.76 483.34,461.95 483.60,463.16 483.86,464.38 484.12,465.61 484.38,466.86 484.64,468.12 484.90,469.40 485.16,470.69 485.42,471.99 485.68,473.31 485.94,474.64 486.20,475.98 486.46,477.33 486.72,478.69 486.98,480.07 487.24,481.45 487.50,482.85 487.76,484.25 488.02,485.67 488.28,487.10 488.54,488.53 488.80,489.97 489.06,491.42 489.32,492.88 489.58,494.35 489.84,495.82 490.10,497.31 490.36,498.79 490.62,500.29 490.88,501.79 491.14,503.29 491.40,504.80 491.66,506.32 491.92,507.84 492.18,509.36 492.44,510.89 492.70,512.42 492.96,513.95 493.22,515.48 493.48,517.02 493.74,518.56 494.00,520.10 494.26,521.64 494.52,523.18 494.78,524.73 495.04,526.27 495.30,527.81 495.56,529.35 495.82,530.89 496.08,532.42 496.34,533.96 496.60,535.49 496.86,537.02 497.12,538.54 497.38,540.07 497.64,541.59 497.90,543.10 498.16,544.61 498.42,546.11 498.68,547.61 498.94,549.10 499.20,550.59 499.46,552.07 499.72,553.54 499.98,555.01 500.24,556.47 500.50,557.92 500.76,559.36 501.02,560.79 501.28,562.21 501.54,563.63 501.80,565.03 502.06,566.43 502.32,567.81 502.58,569.18 502.84,570.54 503.10,571.89 503.36,573.23 503.62,574.56 503.88,575.87 504.14,577.17 504.40,578.46 504.66,579.73 504.92,580.99 505.18,582.24 505.44,583.47 505.70,584.69 505.96,585.89 506.22,587.07 506.48,588.24 506.74,589.40 507.00,590.54 507.26,591.66 507.52,592.77 507.78,593.85 508.04,594.93 508.30,595.98 508.56,597.02 508.82,598.03 509.08,599.03 509.34,600.01 509.60,600.98 509.86,601.92 510.12,602.84 510.38,603.75 510.64,604.63 510.90,605.50 511.16,606.34 511.42,607.16 511.68,607.97 511.94,608.75 512.20,609.51 512.46,610.25 512.72,610.97 512.98,611.67 513.24,612.35 513.50,613.00 513.76,613.63 514.02,614.24 514.28,614.83 514.54,615.40 514.80,615.94 515.06,616.46 515.32,616.96 515.58,617.43 515.84,617.88 516.10,618.31 516.36,618.71 516.62,619.09 516.88,619.45 517.14,619.79 517.40,620.10 517.66,620.38 517.92,620.64 518.18,620.88 518.44,621.10 518.70,621.29 518.96,621.46 519.22,621.60 519.48,621.72 519.74,621.81 520.00,621.88" fill="none" stroke="#ec2a2a" stroke-width="4.0" stroke-linejoin="round" stroke-linecap="round" clip-path="url(#cb)"/>
<path d="M130.00 523.80H520.00" stroke="#231f20" stroke-width="1.5" stroke-dasharray="14.8 8.83" stroke-dashoffset="7.4" fill="none"/>
<path d="M260.00 398.50V649.10" stroke="#231f20" stroke-width="1.5" stroke-dasharray="14.2 8.7" stroke-dashoffset="6.9" fill="none"/>
<path d="M364.00 398.50V649.10" stroke="#231f20" stroke-width="1.5" stroke-dasharray="14.2 8.7" stroke-dashoffset="6.9" fill="none"/>
<path d="M468.00 398.50V649.10" stroke="#231f20" stroke-width="1.5" stroke-dasharray="14.2 8.7" stroke-dashoffset="6.9" fill="none"/>
<path d="M156.00 649.10V644.30M182.00 649.10V644.30M208.00 649.10V644.30M234.00 649.10V644.30M260.00 649.10V644.30M286.00 649.10V644.30M312.00 649.10V644.30M338.00 649.10V644.30M364.00 649.10V644.30M390.00 649.10V644.30M416.00 649.10V644.30M442.00 649.10V644.30M468.00 649.10V644.30M494.00 649.10V644.30M156.00 649.10V640.10M260.00 649.10V640.10M364.00 649.10V640.10M468.00 649.10V640.10M130.00 628.22H134.80M130.00 607.33H134.80M130.00 586.45H134.80M130.00 565.57H134.80M130.00 544.68H134.80M130.00 523.80H134.80M130.00 502.92H134.80M130.00 482.03H134.80M130.00 461.15H134.80M130.00 440.27H134.80M130.00 419.38H134.80M130.00 628.22H139.00M130.00 523.80H139.00M130.00 419.38H139.00" stroke="#231f20" stroke-width="1.5" fill="none"/>
<rect x="130.00" y="398.50" width="390.00" height="250.60" fill="none" stroke="#231f20" stroke-width="1.7"/>
<text transform="translate(157.00,681.30) scale(1,1.05)" text-anchor="middle" font-size="25">0</text>
<text transform="translate(261.00,681.30) scale(1,1.05)" text-anchor="middle" font-size="25">20</text>
<text transform="translate(365.00,681.30) scale(1,1.05)" text-anchor="middle" font-size="25">40</text>
<text transform="translate(469.00,681.30) scale(1,1.05)" text-anchor="middle" font-size="25">60</text>
<text transform="translate(117.05,637.22) scale(1,1.05)" text-anchor="end" font-size="25">5</text>
<rect x="92.35" y="630.17" width="9.6" height="1.7" fill="#231f20"/>
<text transform="translate(116.98,532.80) scale(1,1.05)" text-anchor="end" font-size="25">0</text>
<text transform="translate(117.05,428.38) scale(1,1.05)" text-anchor="end" font-size="25">5</text>
<rect x="156.00" y="765.70" width="51.40" height="251.10" fill="#c4c0c0"/>
<clipPath id="ce"><rect x="130.00" y="765.70" width="390.00" height="251.10"/></clipPath>
<polyline points="156.00,891.25 156.26,891.22 156.52,891.14 156.78,890.99 157.04,890.80 157.30,890.54 157.56,890.23 157.82,889.86 158.08,889.44 158.34,888.97 158.60,888.43 158.86,887.85 159.12,887.21 159.38,886.52 159.64,885.77 159.90,884.98 160.16,884.13 160.42,883.24 160.68,882.29 160.94,881.30 161.20,880.26 161.46,879.17 161.72,878.04 161.98,876.87 162.24,875.65 162.50,874.40 162.76,873.10 163.02,871.76 163.28,870.39 163.54,868.98 163.80,867.53 164.06,866.05 164.32,864.54 164.58,863.00 164.84,861.43 165.10,859.83 165.36,858.21 165.62,856.56 165.88,854.89 166.14,853.20 166.40,851.49 166.66,849.76 166.92,848.02 167.18,846.26 167.44,844.49 167.70,842.71 167.96,840.92 168.22,839.12 168.48,837.32 168.74,835.51 169.00,833.71 169.26,831.90 169.52,830.09 169.78,828.29 170.04,826.49 170.30,824.70 170.56,822.92 170.82,821.15 171.08,819.40 171.34,817.65 171.60,815.92 171.86,814.21 172.12,812.52 172.38,810.85 172.64,809.21 172.90,807.58 173.16,805.98 173.42,804.41 173.68,802.87 173.94,801.36 174.20,799.88 174.46,798.44 174.72,797.03 174.98,795.65 175.24,794.31 175.50,793.02 175.76,791.76 176.02,790.54 176.28,789.37 176.54,788.24 176.80,787.15 177.06,786.11 177.32,785.12 177.58,784.18 177.84,783.28 178.10,782.43 178.36,781.64 178.62,780.90 178.88,780.20 179.14,779.56 179.40,778.98 179.66,778.45 179.92,777.97 180.18,777.55 180.44,777.18 180.70,776.87 180.96,776.62 181.22,776.42 181.48,776.28 181.74,776.19 182.00,776.16 182.26,776.19 182.52,776.28 182.78,776.42 183.04,776.62 183.30,776.87 183.56,777.18 183.82,777.55 184.08,777.97 184.34,778.45 184.60,778.98 184.86,779.56 185.12,780.20 185.38,780.90 185.64,781.64 185.90,782.43 186.16,783.28 186.42,784.18 186.68,785.12 186.94,786.11 187.20,787.15 187.46,788.24 187.72,789.37 187.98,790.54 188.24,791.76 188.50,793.02 188.76,794.31 189.02,795.65 189.28,797.03 189.54,798.44 189.80,799.88 190.06,801.36 190.32,802.87 190.58,804.41 190.84,805.98 191.10,807.58 191.36,809.21 191.62,810.85 191.88,812.52 192.14,814.21 192.40,815.92 192.66,817.65 192.92,819.40 193.18,821.15 193.44,822.92 193.70,824.70 193.96,826.49 194.22,828.29 194.48,830.09 194.74,831.90 195.00,833.71 195.26,835.51 195.52,837.32 195.78,839.12 196.04,840.92 196.30,842.71 196.56,844.49 196.82,846.26 197.08,848.02 197.34,849.76 197.60,851.49 197.86,853.20 198.12,854.89 198.38,856.56 198.64,858.21 198.90,859.83 199.16,861.43 199.42,863.00 199.68,864.54 199.94,866.05 200.20,867.53 200.46,868.98 200.72,870.39 200.98,871.76 201.24,873.10 201.50,874.40 201.76,875.65 202.02,876.87 202.28,878.04 202.54,879.17 202.80,880.26 203.06,881.30 203.32,882.29 203.58,883.24 203.84,884.13 204.10,884.98 204.36,885.77 204.62,886.52 204.88,887.21 205.14,887.85 205.40,888.43 205.66,888.97 205.92,889.44 206.18,889.86 206.44,890.23 206.70,890.54 206.96,890.80 207.22,890.99 207.48,891.14 207.74,891.22 208.00,891.25 208.26,891.22 208.52,891.14 208.78,890.99 209.04,890.80 209.30,890.54 209.56,890.23 209.82,889.86 210.08,889.44 210.34,888.97 210.60,888.43 210.86,887.85 211.12,887.21 211.38,886.52 211.64,885.77 211.90,884.98 212.16,884.13 212.42,883.24 212.68,882.29 212.94,881.30 213.20,880.26 213.46,879.17 213.72,878.04 213.98,876.87 214.24,875.65 214.50,874.40 214.76,873.10 215.02,871.76 215.28,870.39 215.54,868.98 215.80,867.53 216.06,866.05 216.32,864.54 216.58,863.00 216.84,861.43 217.10,859.83 217.36,858.21 217.62,856.56 217.88,854.89 218.14,853.20 218.40,851.49 218.66,849.76 218.92,848.02 219.18,846.26 219.44,844.49 219.70,842.71 219.96,840.92 220.22,839.12 220.48,837.32 220.74,835.51 221.00,833.71 221.26,831.90 221.52,830.09 221.78,828.29 222.04,826.49 222.30,824.70 222.56,822.92 222.82,821.15 223.08,819.40 223.34,817.65 223.60,815.92 223.86,814.21 224.12,812.52 224.38,810.85 224.64,809.21 224.90,807.58 225.16,805.98 225.42,804.41 225.68,802.87 225.94,801.36 226.20,799.88 226.46,798.44 226.72,797.03 226.98,795.65 227.24,794.31 227.50,793.02 227.76,791.76 228.02,790.54 228.28,789.37 228.54,788.24 228.80,787.15 229.06,786.11 229.32,785.12 229.58,784.18 229.84,783.28 230.10,782.43 230.36,781.64 230.62,780.90 230.88,780.20 231.14,779.56 231.40,778.98 231.66,778.45 231.92,777.97 232.18,777.55 232.44,777.18 232.70,776.87 232.96,776.62 233.22,776.42 233.48,776.28 233.74,776.19 234.00,776.16 234.26,776.19 234.52,776.28 234.78,776.42 235.04,776.62 235.30,776.87 235.56,777.18 235.82,777.55 236.08,777.97 236.34,778.45 236.60,778.98 236.86,779.56 237.12,780.20 237.38,780.90 237.64,781.64 237.90,782.43 238.16,783.28 238.42,784.18 238.68,785.12 238.94,786.11 239.20,787.15 239.46,788.24 239.72,789.37 239.98,790.54 240.24,791.76 240.50,793.02 240.76,794.31 241.02,795.65 241.28,797.03 241.54,798.44 241.80,799.88 242.06,801.36 242.32,802.87 242.58,804.41 242.84,805.98 243.10,807.58 243.36,809.21 243.62,810.85 243.88,812.52 244.14,814.21 244.40,815.92 244.66,817.65 244.92,819.40 245.18,821.15 245.44,822.92 245.70,824.70 245.96,826.49 246.22,828.29 246.48,830.09 246.74,831.90 247.00,833.71 247.26,835.51 247.52,837.32 247.78,839.12 248.04,840.92 248.30,842.71 248.56,844.49 248.82,846.26 249.08,848.02 249.34,849.76 249.60,851.49 249.86,853.20 250.12,854.89 250.38,856.56 250.64,858.21 250.90,859.83 251.16,861.43 251.42,863.00 251.68,864.54 251.94,866.05 252.20,867.53 252.46,868.98 252.72,870.39 252.98,871.76 253.24,873.10 253.50,874.40 253.76,875.65 254.02,876.87 254.28,878.04 254.54,879.17 254.80,880.26 255.06,881.30 255.32,882.29 255.58,883.24 255.84,884.13 256.10,884.98 256.36,885.77 256.62,886.52 256.88,887.21 257.14,887.85 257.40,888.43 257.66,888.97 257.92,889.44 258.18,889.86 258.44,890.23 258.70,890.54 258.96,890.80 259.22,890.99 259.48,891.14 259.74,891.22 260.00,891.25 260.26,891.22 260.52,891.14 260.78,890.99 261.04,890.80 261.30,890.54 261.56,890.23 261.82,889.86 262.08,889.44 262.34,888.97 262.60,888.43 262.86,887.85 263.12,887.21 263.38,886.52 263.64,885.77 263.90,884.98 264.16,884.13 264.42,883.24 264.68,882.29 264.94,881.30 265.20,880.26 265.46,879.17 265.72,878.04 265.98,876.87 266.24,875.65 266.50,874.40 266.76,873.10 267.02,871.76 267.28,870.39 267.54,868.98 267.80,867.53 268.06,866.05 268.32,864.54 268.58,863.00 268.84,861.43 269.10,859.83 269.36,858.21 269.62,856.56 269.88,854.89 270.14,853.20 270.40,851.49 270.66,849.76 270.92,848.02 271.18,846.26 271.44,844.49 271.70,842.71 271.96,840.92 272.22,839.12 272.48,837.32 272.74,835.51 273.00,833.71 273.26,831.90 273.52,830.09 273.78,828.29 274.04,826.49 274.30,824.70 274.56,822.92 274.82,821.15 275.08,819.40 275.34,817.65 275.60,815.92 275.86,814.21 276.12,812.52 276.38,810.85 276.64,809.21 276.90,807.58 277.16,805.98 277.42,804.41 277.68,802.87 277.94,801.36 278.20,799.88 278.46,798.44 278.72,797.03 278.98,795.65 279.24,794.31 279.50,793.02 279.76,791.76 280.02,790.54 280.28,789.37 280.54,788.24 280.80,787.15 281.06,786.11 281.32,785.12 281.58,784.18 281.84,783.28 282.10,782.43 282.36,781.64 282.62,780.90 282.88,780.20 283.14,779.56 283.40,778.98 283.66,778.45 283.92,777.97 284.18,777.55 284.44,777.18 284.70,776.87 284.96,776.62 285.22,776.42 285.48,776.28 285.74,776.19 286.00,776.16 286.26,776.19 286.52,776.28 286.78,776.42 287.04,776.62 287.30,776.87 287.56,777.18 287.82,777.55 288.08,777.97 288.34,778.45 288.60,778.98 288.86,779.56 289.12,780.20 289.38,780.90 289.64,781.64 289.90,782.43 290.16,783.28 290.42,784.18 290.68,785.12 290.94,786.11 291.20,787.15 291.46,788.24 291.72,789.37 291.98,790.54 292.24,791.76 292.50,793.02 292.76,794.31 293.02,795.65 293.28,797.03 293.54,798.44 293.80,799.88 294.06,801.36 294.32,802.87 294.58,804.41 294.84,805.98 295.10,807.58 295.36,809.21 295.62,810.85 295.88,812.52 296.14,814.21 296.40,815.92 296.66,817.65 296.92,819.40 297.18,821.15 297.44,822.92 297.70,824.70 297.96,826.49 298.22,828.29 298.48,830.09 298.74,831.90 299.00,833.71 299.26,835.51 299.52,837.32 299.78,839.12 300.04,840.92 300.30,842.71 300.56,844.49 300.82,846.26 301.08,848.02 301.34,849.76 301.60,851.49 301.86,853.20 302.12,854.89 302.38,856.56 302.64,858.21 302.90,859.83 303.16,861.43 303.42,863.00 303.68,864.54 303.94,866.05 304.20,867.53 304.46,868.98 304.72,870.39 304.98,871.76 305.24,873.10 305.50,874.40 305.76,875.65 306.02,876.87 306.28,878.04 306.54,879.17 306.80,880.26 307.06,881.30 307.32,882.29 307.58,883.24 307.84,884.13 308.10,884.98 308.36,885.77 308.62,886.52 308.88,887.21 309.14,887.85 309.40,888.43 309.66,888.97 309.92,889.44 310.18,889.86 310.44,890.23 310.70,890.54 310.96,890.80 311.22,890.99 311.48,891.14 311.74,891.22 312.00,891.25 312.26,891.22 312.52,891.14 312.78,890.99 313.04,890.80 313.30,890.54 313.56,890.23 313.82,889.86 314.08,889.44 314.34,888.97 314.60,888.43 314.86,887.85 315.12,887.21 315.38,886.52 315.64,885.77 315.90,884.98 316.16,884.13 316.42,883.24 316.68,882.29 316.94,881.30 317.20,880.26 317.46,879.17 317.72,878.04 317.98,876.87 318.24,875.65 318.50,874.40 318.76,873.10 319.02,871.76 319.28,870.39 319.54,868.98 319.80,867.53 320.06,866.05 320.32,864.54 320.58,863.00 320.84,861.43 321.10,859.83 321.36,858.21 321.62,856.56 321.88,854.89 322.14,853.20 322.40,851.49 322.66,849.76 322.92,848.02 323.18,846.26 323.44,844.49 323.70,842.71 323.96,840.92 324.22,839.12 324.48,837.32 324.74,835.51 325.00,833.71 325.26,831.90 325.52,830.09 325.78,828.29 326.04,826.49 326.30,824.70 326.56,822.92 326.82,821.15 327.08,819.40 327.34,817.65 327.60,815.92 327.86,814.21 328.12,812.52 328.38,810.85 328.64,809.21 328.90,807.58 329.16,805.98 329.42,804.41 329.68,802.87 329.94,801.36 330.20,799.88 330.46,798.44 330.72,797.03 330.98,795.65 331.24,794.31 331.50,793.02 331.76,791.76 332.02,790.54 332.28,789.37 332.54,788.24 332.80,787.15 333.06,786.11 333.32,785.12 333.58,784.18 333.84,783.28 334.10,782.43 334.36,781.64 334.62,780.90 334.88,780.20 335.14,779.56 335.40,778.98 335.66,778.45 335.92,777.97 336.18,777.55 336.44,777.18 336.70,776.87 336.96,776.62 337.22,776.42 337.48,776.28 337.74,776.19 338.00,776.16 338.26,776.19 338.52,776.28 338.78,776.42 339.04,776.62 339.30,776.87 339.56,777.18 339.82,777.55 340.08,777.97 340.34,778.45 340.60,778.98 340.86,779.56 341.12,780.20 341.38,780.90 341.64,781.64 341.90,782.43 342.16,783.28 342.42,784.18 342.68,785.12 342.94,786.11 343.20,787.15 343.46,788.24 343.72,789.37 343.98,790.54 344.24,791.76 344.50,793.02 344.76,794.31 345.02,795.65 345.28,797.03 345.54,798.44 345.80,799.88 346.06,801.36 346.32,802.87 346.58,804.41 346.84,805.98 347.10,807.58 347.36,809.21 347.62,810.85 347.88,812.52 348.14,814.21 348.40,815.92 348.66,817.65 348.92,819.40 349.18,821.15 349.44,822.92 349.70,824.70 349.96,826.49 350.22,828.29 350.48,830.09 350.74,831.90 351.00,833.71 351.26,835.51 351.52,837.32 351.78,839.12 352.04,840.92 352.30,842.71 352.56,844.49 352.82,846.26 353.08,848.02 353.34,849.76 353.60,851.49 353.86,853.20 354.12,854.89 354.38,856.56 354.64,858.21 354.90,859.83 355.16,861.43 355.42,863.00 355.68,864.54 355.94,866.05 356.20,867.53 356.46,868.98 356.72,870.39 356.98,871.76 357.24,873.10 357.50,874.40 357.76,875.65 358.02,876.87 358.28,878.04 358.54,879.17 358.80,880.26 359.06,881.30 359.32,882.29 359.58,883.24 359.84,884.13 360.10,884.98 360.36,885.77 360.62,886.52 360.88,887.21 361.14,887.85 361.40,888.43 361.66,888.97 361.92,889.44 362.18,889.86 362.44,890.23 362.70,890.54 362.96,890.80 363.22,890.99 363.48,891.14 363.74,891.22 364.00,891.25 364.26,891.22 364.52,891.14 364.78,890.99 365.04,890.80 365.30,890.54 365.56,890.23 365.82,889.86 366.08,889.44 366.34,888.97 366.60,888.43 366.86,887.85 367.12,887.21 367.38,886.52 367.64,885.77 367.90,884.98 368.16,884.13 368.42,883.24 368.68,882.29 368.94,881.30 369.20,880.26 369.46,879.17 369.72,878.04 369.98,876.87 370.24,875.65 370.50,874.40 370.76,873.10 371.02,871.76 371.28,870.39 371.54,868.98 371.80,867.53 372.06,866.05 372.32,864.54 372.58,863.00 372.84,861.43 373.10,859.83 373.36,858.21 373.62,856.56 373.88,854.89 374.14,853.20 374.40,851.49 374.66,849.76 374.92,848.02 375.18,846.26 375.44,844.49 375.70,842.71 375.96,840.92 376.22,839.12 376.48,837.32 376.74,835.51 377.00,833.71 377.26,831.90 377.52,830.09 377.78,828.29 378.04,826.49 378.30,824.70 378.56,822.92 378.82,821.15 379.08,819.40 379.34,817.65 379.60,815.92 379.86,814.21 380.12,812.52 380.38,810.85 380.64,809.21 380.90,807.58 381.16,805.98 381.42,804.41 381.68,802.87 381.94,801.36 382.20,799.88 382.46,798.44 382.72,797.03 382.98,795.65 383.24,794.31 383.50,793.02 383.76,791.76 384.02,790.54 384.28,789.37 384.54,788.24 384.80,787.15 385.06,786.11 385.32,785.12 385.58,784.18 385.84,783.28 386.10,782.43 386.36,781.64 386.62,780.90 386.88,780.20 387.14,779.56 387.40,778.98 387.66,778.45 387.92,777.97 388.18,777.55 388.44,777.18 388.70,776.87 388.96,776.62 389.22,776.42 389.48,776.28 389.74,776.19 390.00,776.16 390.26,776.19 390.52,776.28 390.78,776.42 391.04,776.62 391.30,776.87 391.56,777.18 391.82,777.55 392.08,777.97 392.34,778.45 392.60,778.98 392.86,779.56 393.12,780.20 393.38,780.90 393.64,781.64 393.90,782.43 394.16,783.28 394.42,784.18 394.68,785.12 394.94,786.11 395.20,787.15 395.46,788.24 395.72,789.37 395.98,790.54 396.24,791.76 396.50,793.02 396.76,794.31 397.02,795.65 397.28,797.03 397.54,798.44 397.80,799.88 398.06,801.36 398.32,802.87 398.58,804.41 398.84,805.98 399.10,807.58 399.36,809.21 399.62,810.85 399.88,812.52 400.14,814.21 400.40,815.92 400.66,817.65 400.92,819.40 401.18,821.15 401.44,822.92 401.70,824.70 401.96,826.49 402.22,828.29 402.48,830.09 402.74,831.90 403.00,833.71 403.26,835.51 403.52,837.32 403.78,839.12 404.04,840.92 404.30,842.71 404.56,844.49 404.82,846.26 405.08,848.02 405.34,849.76 405.60,851.49 405.86,853.20 406.12,854.89 406.38,856.56 406.64,858.21 406.90,859.83 407.16,861.43 407.42,863.00 407.68,864.54 407.94,866.05 408.20,867.53 408.46,868.98 408.72,870.39 408.98,871.76 409.24,873.10 409.50,874.40 409.76,875.65 410.02,876.87 410.28,878.04 410.54,879.17 410.80,880.26 411.06,881.30 411.32,882.29 411.58,883.24 411.84,884.13 412.10,884.98 412.36,885.77 412.62,886.52 412.88,887.21 413.14,887.85 413.40,888.43 413.66,888.97 413.92,889.44 414.18,889.86 414.44,890.23 414.70,890.54 414.96,890.80 415.22,890.99 415.48,891.14 415.74,891.22 416.00,891.25 416.26,891.22 416.52,891.14 416.78,890.99 417.04,890.80 417.30,890.54 417.56,890.23 417.82,889.86 418.08,889.44 418.34,888.97 418.60,888.43 418.86,887.85 419.12,887.21 419.38,886.52 419.64,885.77 419.90,884.98 420.16,884.13 420.42,883.24 420.68,882.29 420.94,881.30 421.20,880.26 421.46,879.17 421.72,878.04 421.98,876.87 422.24,875.65 422.50,874.40 422.76,873.10 423.02,871.76 423.28,870.39 423.54,868.98 423.80,867.53 424.06,866.05 424.32,864.54 424.58,863.00 424.84,861.43 425.10,859.83 425.36,858.21 425.62,856.56 425.88,854.89 426.14,853.20 426.40,851.49 426.66,849.76 426.92,848.02 427.18,846.26 427.44,844.49 427.70,842.71 427.96,840.92 428.22,839.12 428.48,837.32 428.74,835.51 429.00,833.71 429.26,831.90 429.52,830.09 429.78,828.29 430.04,826.49 430.30,824.70 430.56,822.92 430.82,821.15 431.08,819.40 431.34,817.65 431.60,815.92 431.86,814.21 432.12,812.52 432.38,810.85 432.64,809.21 432.90,807.58 433.16,805.98 433.42,804.41 433.68,802.87 433.94,801.36 434.20,799.88 434.46,798.44 434.72,797.03 434.98,795.65 435.24,794.31 435.50,793.02 435.76,791.76 436.02,790.54 436.28,789.37 436.54,788.24 436.80,787.15 437.06,786.11 437.32,785.12 437.58,784.18 437.84,783.28 438.10,782.43 438.36,781.64 438.62,780.90 438.88,780.20 439.14,779.56 439.40,778.98 439.66,778.45 439.92,777.97 440.18,777.55 440.44,777.18 440.70,776.87 440.96,776.62 441.22,776.42 441.48,776.28 441.74,776.19 442.00,776.16 442.26,776.19 442.52,776.28 442.78,776.42 443.04,776.62 443.30,776.87 443.56,777.18 443.82,777.55 444.08,777.97 444.34,778.45 444.60,778.98 444.86,779.56 445.12,780.20 445.38,780.90 445.64,781.64 445.90,782.43 446.16,783.28 446.42,784.18 446.68,785.12 446.94,786.11 447.20,787.15 447.46,788.24 447.72,789.37 447.98,790.54 448.24,791.76 448.50,793.02 448.76,794.31 449.02,795.65 449.28,797.03 449.54,798.44 449.80,799.88 450.06,801.36 450.32,802.87 450.58,804.41 450.84,805.98 451.10,807.58 451.36,809.21 451.62,810.85 451.88,812.52 452.14,814.21 452.40,815.92 452.66,817.65 452.92,819.40 453.18,821.15 453.44,822.92 453.70,824.70 453.96,826.49 454.22,828.29 454.48,830.09 454.74,831.90 455.00,833.71 455.26,835.51 455.52,837.32 455.78,839.12 456.04,840.92 456.30,842.71 456.56,844.49 456.82,846.26 457.08,848.02 457.34,849.76 457.60,851.49 457.86,853.20 458.12,854.89 458.38,856.56 458.64,858.21 458.90,859.83 459.16,861.43 459.42,863.00 459.68,864.54 459.94,866.05 460.20,867.53 460.46,868.98 460.72,870.39 460.98,871.76 461.24,873.10 461.50,874.40 461.76,875.65 462.02,876.87 462.28,878.04 462.54,879.17 462.80,880.26 463.06,881.30 463.32,882.29 463.58,883.24 463.84,884.13 464.10,884.98 464.36,885.77 464.62,886.52 464.88,887.21 465.14,887.85 465.40,888.43 465.66,888.97 465.92,889.44 466.18,889.86 466.44,890.23 466.70,890.54 466.96,890.80 467.22,890.99 467.48,891.14 467.74,891.22 468.00,891.25 468.26,891.22 468.52,891.14 468.78,890.99 469.04,890.80 469.30,890.54 469.56,890.23 469.82,889.86 470.08,889.44 470.34,888.97 470.60,888.43 470.86,887.85 471.12,887.21 471.38,886.52 471.64,885.77 471.90,884.98 472.16,884.13 472.42,883.24 472.68,882.29 472.94,881.30 473.20,880.26 473.46,879.17 473.72,878.04 473.98,876.87 474.24,875.65 474.50,874.40 474.76,873.10 475.02,871.76 475.28,870.39 475.54,868.98 475.80,867.53 476.06,866.05 476.32,864.54 476.58,863.00 476.84,861.43 477.10,859.83 477.36,858.21 477.62,856.56 477.88,854.89 478.14,853.20 478.40,851.49 478.66,849.76 478.92,848.02 479.18,846.26 479.44,844.49 479.70,842.71 479.96,840.92 480.22,839.12 480.48,837.32 480.74,835.51 481.00,833.71 481.26,831.90 481.52,830.09 481.78,828.29 482.04,826.49 482.30,824.70 482.56,822.92 482.82,821.15 483.08,819.40 483.34,817.65 483.60,815.92 483.86,814.21 484.12,812.52 484.38,810.85 484.64,809.21 484.90,807.58 485.16,805.98 485.42,804.41 485.68,802.87 485.94,801.36 486.20,799.88 486.46,798.44 486.72,797.03 486.98,795.65 487.24,794.31 487.50,793.02 487.76,791.76 488.02,790.54 488.28,789.37 488.54,788.24 488.80,787.15 489.06,786.11 489.32,785.12 489.58,784.18 489.84,783.28 490.10,782.43 490.36,781.64 490.62,780.90 490.88,780.20 491.14,779.56 491.40,778.98 491.66,778.45 491.92,777.97 492.18,777.55 492.44,777.18 492.70,776.87 492.96,776.62 493.22,776.42 493.48,776.28 493.74,776.19 494.00,776.16 494.26,776.19 494.52,776.28 494.78,776.42 495.04,776.62 495.30,776.87 495.56,777.18 495.82,777.55 496.08,777.97 496.34,778.45 496.60,778.98 496.86,779.56 497.12,780.20 497.38,780.90 497.64,781.64 497.90,782.43 498.16,783.28 498.42,784.18 498.68,785.12 498.94,786.11 499.20,787.15 499.46,788.24 499.72,789.37 499.98,790.54 500.24,791.76 500.50,793.02 500.76,794.31 501.02,795.65 501.28,797.03 501.54,798.44 501.80,799.88 502.06,801.36 502.32,802.87 502.58,804.41 502.84,805.98 503.10,807.58 503.36,809.21 503.62,810.85 503.88,812.52 504.14,814.21 504.40,815.92 504.66,817.65 504.92,819.40 505.18,821.15 505.44,822.92 505.70,824.70 505.96,826.49 506.22,828.29 506.48,830.09 506.74,831.90 507.00,833.71 507.26,835.51 507.52,837.32 507.78,839.12 508.04,840.92 508.30,842.71 508.56,844.49 508.82,846.26 509.08,848.02 509.34,849.76 509.60,851.49 509.86,853.20 510.12,854.89 510.38,856.56 510.64,858.21 510.90,859.83 511.16,861.43 511.42,863.00 511.68,864.54 511.94,866.05 512.20,867.53 512.46,868.98 512.72,870.39 512.98,871.76 513.24,873.10 513.50,874.40 513.76,875.65 514.02,876.87 514.28,878.04 514.54,879.17 514.80,880.26 515.06,881.30 515.32,882.29 515.58,883.24 515.84,884.13 516.10,884.98 516.36,885.77 516.62,886.52 516.88,887.21 517.14,887.85 517.40,888.43 517.66,888.97 517.92,889.44 518.18,889.86 518.44,890.23 518.70,890.54 518.96,890.80 519.22,890.99 519.48,891.14 519.74,891.22 520.00,891.25" fill="none" stroke="#2556a6" stroke-width="4.0" stroke-linejoin="round" stroke-linecap="round" clip-path="url(#ce)"/>
<path d="M130.00 891.25H520.00" stroke="#231f20" stroke-width="1.5" stroke-dasharray="14.8 8.83" stroke-dashoffset="4.2" fill="none"/>
<path d="M260.00 765.70V1016.80" stroke="#231f20" stroke-width="1.5" stroke-dasharray="14.2 8.7" stroke-dashoffset="7.2" fill="none"/>
<path d="M364.00 765.70V1016.80" stroke="#231f20" stroke-width="1.5" stroke-dasharray="14.2 8.7" stroke-dashoffset="7.2" fill="none"/>
<path d="M468.00 765.70V1016.80" stroke="#231f20" stroke-width="1.5" stroke-dasharray="14.2 8.7" stroke-dashoffset="7.2" fill="none"/>
<path d="M156.00 1016.80V1012.00M182.00 1016.80V1012.00M208.00 1016.80V1012.00M234.00 1016.80V1012.00M260.00 1016.80V1012.00M286.00 1016.80V1012.00M312.00 1016.80V1012.00M338.00 1016.80V1012.00M364.00 1016.80V1012.00M390.00 1016.80V1012.00M416.00 1016.80V1012.00M442.00 1016.80V1012.00M468.00 1016.80V1012.00M494.00 1016.80V1012.00M156.00 1016.80V1007.80M260.00 1016.80V1007.80M364.00 1016.80V1007.80M468.00 1016.80V1007.80M130.00 1006.34H134.80M130.00 995.88H134.80M130.00 985.41H134.80M130.00 974.95H134.80M130.00 964.49H134.80M130.00 954.02H134.80M130.00 943.56H134.80M130.00 933.10H134.80M130.00 922.64H134.80M130.00 912.17H134.80M130.00 901.71H134.80M130.00 891.25H134.80M130.00 880.79H134.80M130.00 870.33H134.80M130.00 859.86H134.80M130.00 849.40H134.80M130.00 838.94H134.80M130.00 828.48H134.80M130.00 818.01H134.80M130.00 807.55H134.80M130.00 797.09H134.80M130.00 786.62H134.80M130.00 776.16H134.80M130.00 995.88H139.00M130.00 943.56H139.00M130.00 891.25H139.00M130.00 838.94H139.00M130.00 786.62H139.00" stroke="#231f20" stroke-width="1.5" fill="none"/>
<rect x="130.00" y="765.70" width="390.00" height="251.10" fill="none" stroke="#231f20" stroke-width="1.7"/>
<text transform="translate(157.80,1047.30) scale(1,1.05)" text-anchor="middle" font-size="25">0</text>
<text transform="translate(261.80,1047.30) scale(1,1.05)" text-anchor="middle" font-size="25">20</text>
<text transform="translate(365.80,1047.30) scale(1,1.05)" text-anchor="middle" font-size="25">40</text>
<text transform="translate(469.80,1047.30) scale(1,1.05)" text-anchor="middle" font-size="25">60</text>
<text transform="translate(116.73,1004.88) scale(1,1.05)" text-anchor="end" font-size="25">4</text>
<rect x="91.60" y="997.82" width="9.6" height="1.7" fill="#231f20"/>
<text transform="translate(117.26,952.56) scale(1,1.05)" text-anchor="end" font-size="25">2</text>
<rect x="92.81" y="945.51" width="9.6" height="1.7" fill="#231f20"/>
<text transform="translate(116.98,900.25) scale(1,1.05)" text-anchor="end" font-size="25">0</text>
<text transform="translate(117.26,847.94) scale(1,1.05)" text-anchor="end" font-size="25">2</text>
<text transform="translate(116.73,795.62) scale(1,1.05)" text-anchor="end" font-size="25">4</text>
<clipPath id="cc"><rect x="668.00" y="33.90" width="274.70" height="250.70"/></clipPath>
<path d="M668.00 284.60L942.70 51.23" stroke="#000" stroke-width="1.5" stroke-dasharray="15 8.9" stroke-dashoffset="7.8" fill="none" clip-path="url(#cc)"/>
<circle cx="692.97" cy="263.42" r="7.6" fill="#ec2a2a" clip-path="url(#cc)"/>
<circle cx="730.43" cy="231.95" r="7.6" fill="#ec2a2a" clip-path="url(#cc)"/>
<circle cx="792.86" cy="178.68" r="7.6" fill="#ec2a2a" clip-path="url(#cc)"/>
<circle cx="917.73" cy="73.07" r="7.6" fill="#ec2a2a" clip-path="url(#cc)"/>
<path d="M692.97 284.60V279.80M717.95 284.60V279.80M742.92 284.60V279.80M767.89 284.60V279.80M792.86 284.60V279.80M817.84 284.60V279.80M842.81 284.60V279.80M867.78 284.60V279.80M892.75 284.60V279.80M917.73 284.60V279.80M792.86 284.60V275.60M917.73 284.60V275.60M668.00 268.93H672.80M668.00 253.26H672.80M668.00 237.59H672.80M668.00 221.93H672.80M668.00 206.26H672.80M668.00 190.59H672.80M668.00 174.92H672.80M668.00 159.25H672.80M668.00 143.58H672.80M668.00 127.91H672.80M668.00 112.24H672.80M668.00 96.58H672.80M668.00 80.91H672.80M668.00 65.24H672.80M668.00 49.57H672.80M668.00 221.93H677.00M668.00 159.25H677.00M668.00 96.58H677.00" stroke="#231f20" stroke-width="1.5" fill="none"/>
<rect x="668.00" y="33.90" width="274.70" height="250.70" fill="none" stroke="#231f20" stroke-width="1.7"/>
<text transform="translate(665.00,314.70) scale(1,1.05)" text-anchor="middle" font-size="25">0</text>
<text transform="translate(792.16,314.70) scale(1,1.05)" text-anchor="middle" font-size="25">50</text>
<text transform="translate(917.73,314.70) scale(1,1.05)" text-anchor="middle" font-size="25">100</text>
<text transform="translate(651.78,293.60) scale(1,1.05)" text-anchor="end" font-size="25">0</text>
<text transform="translate(652.06,230.93) scale(1,1.05)" text-anchor="end" font-size="25">2</text>
<text transform="translate(651.53,168.25) scale(1,1.05)" text-anchor="end" font-size="25">4</text>
<text transform="translate(651.90,105.58) scale(1,1.05)" text-anchor="end" font-size="25">6</text>
<text transform="translate(651.89,42.90) scale(1,1.05)" text-anchor="end" font-size="25">8</text>
<clipPath id="cd"><rect x="668.00" y="400.80" width="274.70" height="250.90"/></clipPath>
<path d="M668.00 651.70L942.70 424.60" stroke="#000" stroke-width="1.5" stroke-dasharray="15 8.9" stroke-dashoffset="7.8" fill="none" clip-path="url(#cd)"/>
<circle cx="719.44" cy="608.73" r="7.6" fill="#ec2a2a" clip-path="url(#cd)"/>
<circle cx="770.88" cy="566.71" r="7.6" fill="#ec2a2a" clip-path="url(#cd)"/>
<circle cx="822.33" cy="524.05" r="7.6" fill="#ec2a2a" clip-path="url(#cd)"/>
<circle cx="873.77" cy="480.77" r="7.6" fill="#ec2a2a" clip-path="url(#cd)"/>
<circle cx="925.21" cy="438.75" r="7.6" fill="#ec2a2a" clip-path="url(#cd)"/>
<path d="M693.72 651.70V646.90M719.44 651.70V646.90M745.16 651.70V646.90M770.88 651.70V646.90M796.60 651.70V646.90M822.33 651.70V646.90M848.05 651.70V646.90M873.77 651.70V646.90M899.49 651.70V646.90M925.21 651.70V646.90M796.60 651.70V642.70M925.21 651.70V642.70M668.00 636.02H672.80M668.00 620.34H672.80M668.00 604.66H672.80M668.00 588.98H672.80M668.00 573.29H672.80M668.00 557.61H672.80M668.00 541.93H672.80M668.00 526.25H672.80M668.00 510.57H672.80M668.00 494.89H672.80M668.00 479.21H672.80M668.00 463.53H672.80M668.00 447.84H672.80M668.00 432.16H672.80M668.00 416.48H672.80M668.00 588.98H677.00M668.00 526.25H677.00M668.00 463.53H677.00" stroke="#231f20" stroke-width="1.5" fill="none"/>
<rect x="668.00" y="400.80" width="274.70" height="250.90" fill="none" stroke="#231f20" stroke-width="1.7"/>
<text transform="translate(669.30,681.10) scale(1,1.05)" text-anchor="middle" font-size="25">0</text>
<text transform="translate(796.90,681.10) scale(1,1.05)" text-anchor="middle" font-size="25">5</text>
<text transform="translate(927.01,681.10) scale(1,1.05)" text-anchor="middle" font-size="25">10</text>
<text transform="translate(651.78,660.70) scale(1,1.05)" text-anchor="end" font-size="25">0</text>
<text transform="translate(652.06,597.98) scale(1,1.05)" text-anchor="end" font-size="25">2</text>
<text transform="translate(651.53,535.25) scale(1,1.05)" text-anchor="end" font-size="25">4</text>
<text transform="translate(651.90,472.53) scale(1,1.05)" text-anchor="end" font-size="25">6</text>
<text transform="translate(651.89,409.80) scale(1,1.05)" text-anchor="end" font-size="25">8</text>
<clipPath id="cf"><rect x="668.00" y="765.50" width="274.70" height="251.20"/></clipPath>
<path d="M668.00 1016.70L942.70 762.99" stroke="#000" stroke-width="1.5" stroke-dasharray="15 8.9" stroke-dashoffset="7.8" fill="none" clip-path="url(#cf)"/>
<circle cx="672.30" cy="1012.18" r="7.6" fill="#2556a6" clip-path="url(#cf)"/>
<circle cx="676.97" cy="1007.53" r="7.6" fill="#2556a6" clip-path="url(#cf)"/>
<circle cx="689.34" cy="996.98" r="7.6" fill="#2556a6" clip-path="url(#cf)"/>
<circle cx="706.46" cy="981.78" r="7.6" fill="#2556a6" clip-path="url(#cf)"/>
<circle cx="727.52" cy="961.56" r="7.6" fill="#2556a6" clip-path="url(#cf)"/>
<circle cx="754.99" cy="937.57" r="7.6" fill="#2556a6" clip-path="url(#cf)"/>
<circle cx="785.21" cy="908.68" r="7.6" fill="#2556a6" clip-path="url(#cf)"/>
<circle cx="820.92" cy="876.03" r="7.6" fill="#2556a6" clip-path="url(#cf)"/>
<circle cx="862.12" cy="838.35" r="7.6" fill="#2556a6" clip-path="url(#cf)"/>
<circle cx="907.90" cy="795.64" r="7.6" fill="#2556a6" clip-path="url(#cf)"/>
<path d="M686.31 1016.70V1011.90M704.63 1016.70V1011.90M722.94 1016.70V1011.90M741.25 1016.70V1011.90M759.57 1016.70V1011.90M777.88 1016.70V1011.90M796.19 1016.70V1011.90M814.51 1016.70V1011.90M832.82 1016.70V1011.90M851.13 1016.70V1011.90M869.45 1016.70V1011.90M887.76 1016.70V1011.90M906.07 1016.70V1011.90M924.39 1016.70V1011.90M759.57 1016.70V1007.70M851.13 1016.70V1007.70M668.00 1004.14H672.80M668.00 991.58H672.80M668.00 979.02H672.80M668.00 966.46H672.80M668.00 953.90H672.80M668.00 941.34H672.80M668.00 928.78H672.80M668.00 916.22H672.80M668.00 903.66H672.80M668.00 891.10H672.80M668.00 878.54H672.80M668.00 865.98H672.80M668.00 853.42H672.80M668.00 840.86H672.80M668.00 828.30H672.80M668.00 815.74H672.80M668.00 803.18H672.80M668.00 790.62H672.80M668.00 778.06H672.80M668.00 953.90H677.00M668.00 891.10H677.00M668.00 828.30H677.00" stroke="#231f20" stroke-width="1.5" fill="none"/>
<rect x="668.00" y="765.50" width="274.70" height="251.20" fill="none" stroke="#231f20" stroke-width="1.7"/>
<text transform="translate(667.10,1047.30) scale(1,1.05)" text-anchor="middle" font-size="25">0</text>
<text transform="translate(759.57,1047.30) scale(1,1.05)" text-anchor="middle" font-size="25">1</text>
<text transform="translate(851.13,1047.30) scale(1,1.05)" text-anchor="middle" font-size="25">2</text>
<text transform="translate(942.70,1047.30) scale(1,1.05)" text-anchor="middle" font-size="25">3</text>
<text transform="translate(658.28,1025.70) scale(1,1.05)" text-anchor="end" font-size="25">0</text>
<text transform="translate(658.35,962.90) scale(1,1.05)" text-anchor="end" font-size="25">0.5</text>
<text transform="translate(658.28,900.10) scale(1,1.05)" text-anchor="end" font-size="25">1.0</text>
<text transform="translate(658.35,837.30) scale(1,1.05)" text-anchor="end" font-size="25">1.5</text>
<text transform="translate(658.28,774.50) scale(1,1.05)" text-anchor="end" font-size="25">2.0</text>
<text x="0" y="27.5" font-size="32" font-weight="bold">a</text>
<text x="0" y="394" font-size="32" font-weight="bold">b</text>
<text x="559.4" y="27.2" font-size="32" font-weight="bold">c</text>
<text x="561.5" y="394" font-size="32" font-weight="bold">d</text>
<text x="-0.2" y="768.5" font-size="32" font-weight="bold">e</text>
<text x="559.6" y="767.7" font-size="32" font-weight="bold">f</text>
<text x="328.50" y="350.80" text-anchor="middle" font-size="29.7">Time (ns)</text>
<text x="329.10" y="717.60" text-anchor="middle" font-size="29.7">Time (ns)</text>
<text x="330.00" y="1083.50" text-anchor="middle" font-size="29.7">Time (ns)</text>
<text x="818.60" y="351.10" text-anchor="middle" font-size="29.7">Frequency (MHz)</text>
<text x="814" y="716.8" text-anchor="middle" font-size="29.7"><tspan font-style="italic">j</tspan><tspan font-size="20.5" dy="7.5">0</tspan><tspan dy="-7.5"> (10</tspan><tspan font-size="20.5" dy="-11">10</tspan><tspan dy="11" dx="1.5"> A</tspan><tspan dx="2"> m</tspan><tspan font-size="20.5" dy="-11">-2</tspan><tspan dy="11">)</tspan></text>
<text x="810" y="1082.1" text-anchor="middle" font-size="29.7"><tspan font-style="italic">I</tspan><tspan font-size="20.5" dy="7.5">0</tspan><tspan font-size="20.5" dy="-18.5">2</tspan><tspan dy="11"> (10</tspan><tspan font-size="17" dy="-11">−</tspan><tspan font-size="20.5">10</tspan><tspan dy="11"> A</tspan><tspan font-size="20.5" dy="-11">2</tspan><tspan dy="11">)</tspan></text>
<text transform="translate(76.00,159.60) rotate(-90)" text-anchor="middle" font-size="29.7">Applied <tspan font-style="italic">j</tspan> (10<tspan font-size="20.5" dy="-11">10</tspan><tspan dy="11"> A m</tspan><tspan font-size="17" dy="-11">−</tspan><tspan font-size="20.5">2</tspan><tspan dy="11">)</tspan></text>
<text transform="translate(76.60,523.90) rotate(-90)" text-anchor="middle" font-size="29.25">&lt;<tspan font-style="italic">e</tspan><tspan font-size="20.5" dy="7.5">x</tspan><tspan dy="-7.5">&gt; (10</tspan><tspan font-size="17" dy="-11">−</tspan><tspan font-size="20.5">2</tspan><tspan dy="11"> V m</tspan><tspan font-size="17" dy="-11">−</tspan><tspan font-size="20.5">1</tspan><tspan dy="11">)</tspan></text>
<text transform="translate(73.00,889.90) rotate(-90)" text-anchor="middle" font-size="29.1"><tspan font-family="Liberation Serif" font-size="36">Δ</tspan><tspan font-style="italic">E</tspan> (10<tspan font-size="17" dy="-11">−</tspan><tspan font-size="20.5">22</tspan><tspan dy="11"> J)</tspan></text>
<text transform="translate(596.80,146.80) rotate(-90)" text-anchor="middle" font-size="29.7"><tspan font-style="italic">V</tspan><tspan font-size="20.5" dy="5">e,0</tspan><tspan dy="-5"> (10</tspan><tspan font-size="17" dy="-11">−</tspan><tspan font-size="20.5">7</tspan><tspan dy="11"> V)</tspan></text>
<text transform="translate(596.00,513.00) rotate(-90)" text-anchor="middle" font-size="29.7"><tspan font-style="italic">V</tspan><tspan font-size="20.5" dy="5">e,0</tspan><tspan dy="-5"> (10</tspan><tspan font-size="17" dy="-11">−</tspan><tspan font-size="20.5">7</tspan><tspan dy="11"> V)</tspan></text>
<text transform="translate(601.00,889.60) rotate(-90)" text-anchor="middle" font-size="29.3"><tspan font-family="Liberation Serif" font-size="36">Δ</tspan><tspan font-style="italic">E</tspan><tspan font-size="20.5" dy="7.5">0</tspan><tspan dy="-7.5"> (10</tspan><tspan font-size="17" dy="-11">−</tspan><tspan font-size="20.5">21</tspan><tspan dy="11"> J)</tspan></text>
</svg>
</body></html>
